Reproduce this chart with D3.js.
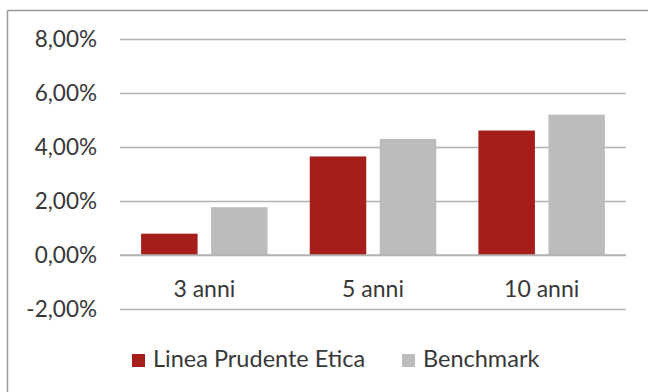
<!DOCTYPE html>
<html><head><meta charset="utf-8">
<script src="https://cdn.jsdelivr.net/npm/d3@7"></script>
<style>
html,body{margin:0;padding:0;background:#fff;}
svg{display:block;}
text{font-family:Lato,"Open Sans",sans-serif;fill:#383838;}
</style></head>
<body>
<svg id="c" width="648" height="392"></svg>
<script>
const categories = ["3 anni", "5 anni", "10 anni"];
const seriesNames = ["Linea Prudente Etica", "Benchmark"];
const lineaValues = [0.79, 3.65, 4.61];
const benchmarkValues = [1.77, 4.30, 5.20];
const tickValues = [-2, 0, 2, 4, 6, 8];
const colors = ["#A51E1A", "#BBBCBE"];

(function () {
const svg = d3.select("#c");
const W = 648, H = 392;
const pLeft = 120, pRight = 626, pTop = 39, pBottom = 309;

svg.append("line").attr("x1", 7.5).attr("x2", W).attr("y1", 10.5).attr("y2", 10.5)
  .attr("stroke", "#9a9a9a").attr("stroke-width", 1.5);
svg.append("line").attr("x1", 7.5).attr("x2", 7.5).attr("y1", 10.5).attr("y2", H)
  .attr("stroke", "#9a9a9a").attr("stroke-width", 1.5);

const y = d3.scaleLinear().domain([-2, 8]).range([pBottom, pTop]);
const x0 = d3.scaleBand().domain(categories).range([pLeft, pRight]).paddingInner(0).paddingOuter(0);

const yAxis = d3.axisLeft(y).tickValues(tickValues).tickSize(-(pRight - pLeft)).tickPadding(23)
  .tickFormat(d => d3.format(".2f")(d).replace(".", ",").replace("\u2212", "-") + "%");
const gy = svg.append("g").attr("transform", `translate(${pLeft},0)`).call(yAxis);
gy.select(".domain").remove();
gy.selectAll(".tick line").attr("stroke", "#b3b3b3").attr("stroke-width", 1.5);
gy.selectAll(".tick text").attr("font-size", 22.5).style("font-family", "Lato, sans-serif").attr("fill", "#383838");

const barW = 56.5, gap = 13.5;
const data = categories.map((c, i) => ({ c, vals: [lineaValues[i], benchmarkValues[i]] }));
const g = svg.append("g");
data.forEach(d => {
  const cx = x0(d.c) + x0.bandwidth() / 2;
  d.vals.forEach((v, j) => {
    const xs = j === 0 ? cx - gap / 2 - barW : cx + gap / 2;
    g.append("rect").attr("x", xs).attr("width", barW)
      .attr("y", y(Math.max(0, v))).attr("height", Math.abs(y(v) - y(0)))
      .attr("fill", colors[j]);
  });
});

svg.append("line").attr("x1", pLeft).attr("x2", pRight).attr("y1", y(0)).attr("y2", y(0))
  .attr("stroke", "#b3b3b3").attr("stroke-width", 1.5);

const xAxis = d3.axisBottom(x0).tickSize(0).tickPadding(0);
const gx = svg.append("g").attr("transform", `translate(0,${y(0)})`).call(xAxis);
gx.select(".domain").remove();
gx.selectAll(".tick text").attr("dy", null).attr("y", 42).attr("font-size", 23)
  .style("font-family", "Lato, sans-serif").attr("fill", "#383838");

const legendX = [132, 402];
seriesNames.forEach((n, i) => {
  svg.append("rect").attr("x", legendX[i]).attr("y", 354).attr("width", 13).attr("height", 13).attr("fill", colors[i]);
  svg.append("text").attr("x", legendX[i] + 21).attr("y", 367).attr("font-size", 23.5).text(n);
});
})();
</script>
</body></html>
